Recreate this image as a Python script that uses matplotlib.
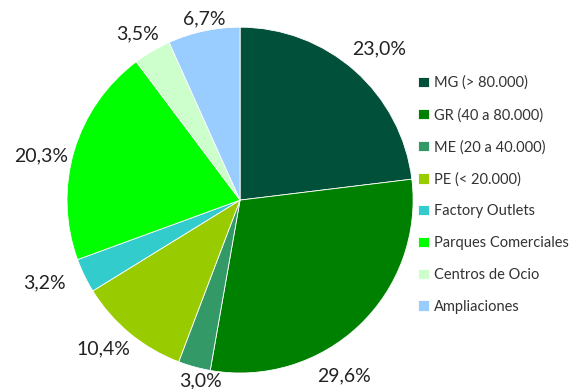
import numpy as np
import matplotlib.pyplot as plt

plt.rcParams['font.family'] = ['Lato', 'DejaVu Sans']

categorias = ['MG (> 80.000)', 'GR (40 a 80.000)', 'ME (20 a 40.000)', 'PE (< 20.000)',
              'Factory Outlets', 'Parques Comerciales', 'Centros de Ocio', 'Ampliaciones']
valores = [23.0, 29.6, 3.0, 10.4, 3.2, 20.3, 3.5, 6.7]
colores = ['#00503a', '#008000', '#339966', '#99cc00', '#33cccc', '#00ff00', '#ccffcc', '#99ccff']

# label placement like Excel: distance from centre (radius units) and angle nudge (deg)
dist_etiq = [1.19, 1.18, 1.07, 1.17, 1.23, 1.18, 1.13, 1.07]
giro_etiq = [-1, -13, 3, -3, -3, 4, 1, -1]

fig = plt.figure(figsize=(5.74, 3.89), dpi=100)
ax = fig.add_axes([0.1167, 0.0411, 0.603, 0.889])

wedges, _ = ax.pie(valores, colors=colores, startangle=90, counterclock=False, radius=1,
                   wedgeprops=dict(linewidth=0.6, edgecolor='white'))

for w, v, d, g in zip(wedges, valores, dist_etiq, giro_etiq):
    ang = np.deg2rad((w.theta1 + w.theta2) / 2 + g)
    ax.text(d * np.cos(ang), d * np.sin(ang), ('%.1f%%' % v).replace('.', ','),
            ha='center', va='center', fontsize=14, color='#222222', clip_on=False)

ax.set_xlim(-1, 1)
ax.set_ylim(-1, 1)
ax.set_aspect('auto')

fig.legend(wedges, categorias, loc='upper left', bbox_to_anchor=(0.706, 0.839),
           frameon=False, fontsize=10.5, handlelength=0.7, handleheight=0.7,
           handletextpad=0.4, labelspacing=1.22, labelcolor='#333333')

fig.savefig('out.png', dpi=100)
